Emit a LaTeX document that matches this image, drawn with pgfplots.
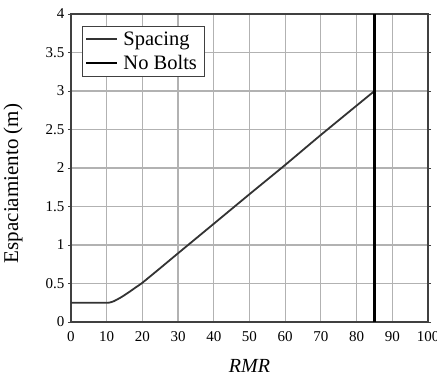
\documentclass[border=0pt]{standalone}
\usepackage{fontspec}
\setmainfont{Liberation Serif}
\usepackage{pgfplots}
\pgfplotsset{compat=1.18}
\begin{document}
\begin{tikzpicture}
\useasboundingbox (-71pt,-54pt) rectangle (366pt,322pt);
\begin{axis}[
  at={(0,0)}, anchor=south west,
  scale only axis, width=357pt, height=308pt,
  xmin=0, xmax=100, ymin=0, ymax=4,
  xtick={0,10,...,100}, ytick={0,0.5,...,4},
  /pgf/number format/assume math mode=true,
  ticklabel style={font=\fontsize{15}{16}\selectfont},
  xticklabel style={yshift=-3pt},
  grid=major,
  grid style={color=black!30, line width=1.2pt},
  axis line style={line width=1.4pt, color=black!75},
  tick align=outside, major tick length=3pt,
  tick style={color=black!75, line width=1pt},
  xtick style={draw=none},
  xlabel={\textit{RMR}},
  xlabel style={at={(axis description cs:0.5,0)}, anchor=center, yshift=-44pt, font=\fontsize{20}{22}\selectfont},
  ylabel={Espaciamiento (m)},
  ylabel style={at={(axis description cs:-0.1625,0.45)}, anchor=center, font=\fontsize{21}{23}\selectfont},
  legend style={draw=black!75, line width=1pt, at={(axis description cs:0,1)}, anchor=north west,
    xshift=11pt, yshift=-12pt, font=\fontsize{20.5}{22}\selectfont, inner xsep=3pt, inner ysep=3pt,
    row sep=5pt, cells={anchor=west}, nodes={inner xsep=5pt}},
  legend image code/.code={\draw[#1, line width=2pt] (0pt,0pt) -- (31pt,0pt);},
]
\addplot[color=black!80, line width=1.8pt, smooth, tension=0.3] coordinates {
(0,0.25) (10,0.25) (11,0.255) (12,0.27) (14,0.32) (16,0.38) (18,0.445) (20,0.51) (25,0.70) (30,0.893) (40,1.276) (50,1.66) (60,2.04) (70,2.43) (85,3.0)
};
\addlegendentry{Spacing}
\addplot[color=black, line width=2.2pt] coordinates {(85,0) (85,4)};
\addlegendentry{No Bolts}
\end{axis}
\end{tikzpicture}
\end{document}
